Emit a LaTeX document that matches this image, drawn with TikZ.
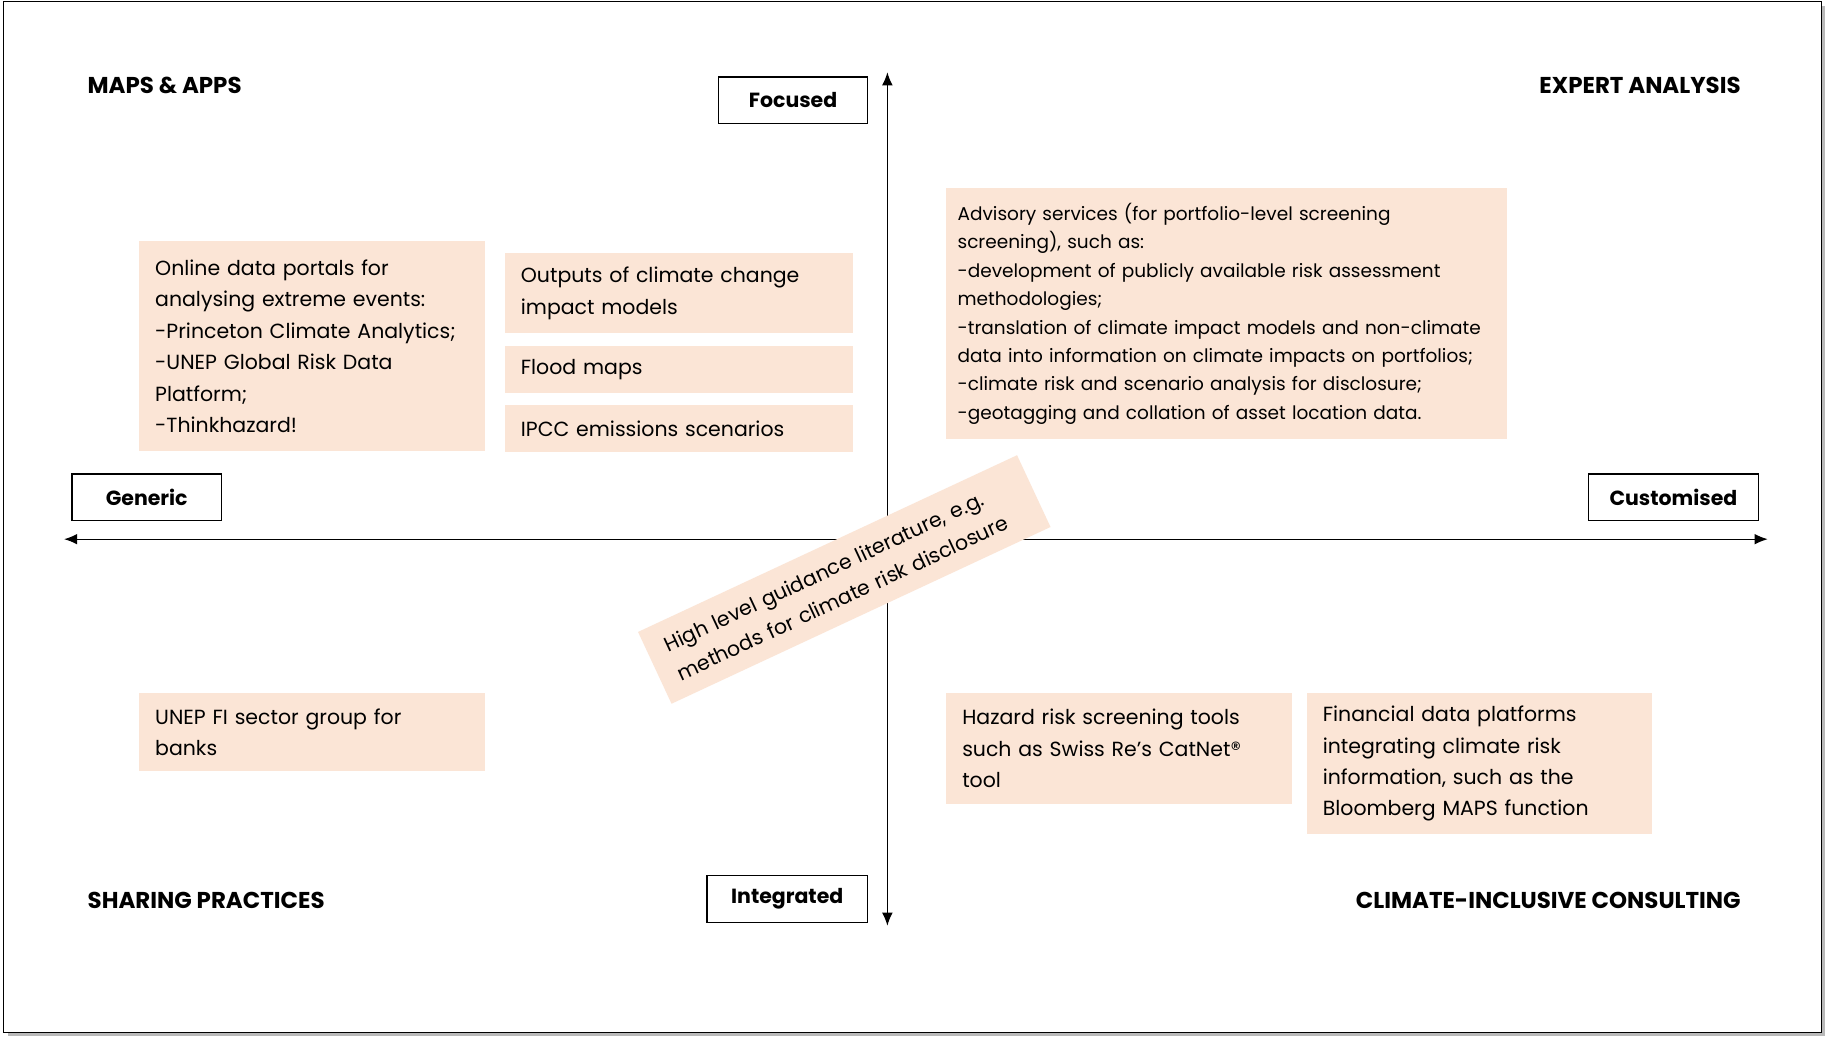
\documentclass[tikz,border=0pt]{standalone}
\usepackage{fontspec}
\setmainfont{Poppins}
\usepackage{xcolor}
\usepackage{tikz}
\usetikzlibrary{arrows.meta, positioning}
\definecolor{peach}{RGB}{251,229,214}
\tikzstyle{card} = [rectangle, fill=peach, align=left, inner xsep=0.35cm, inner ysep=0pt, font=\fontsize{12.5}{19.2}\selectfont]
\tikzstyle{axislabel} = [rectangle, draw=black, fill=white, line width=0.9pt, minimum height=1cm, text centered, font=\bfseries\fontsize{12.5}{14}\selectfont]
\tikzstyle{quadrant} = [inner sep=0pt, font=\bfseries\fontsize{14}{16}\selectfont]
\tikzstyle{axis} = [line width=0.8pt, {Latex[length=8pt,width=6.5pt]}-{Latex[length=8pt,width=6.5pt]}]

\begin{document}
\begin{tikzpicture}[x=0.025cm, y=-0.025cm]

\useasboundingbox (0,0) rectangle (1568,891);

% Frame
\fill [gray!55] (6.5,5) rectangle (1567.5,890);
\draw [fill=white, line width=0.6pt] (3.4,1.7) rectangle (1564.4,886.8);

% Axes
\coordinate (west) at (55,463);
\coordinate (east) at (1518,463);
\coordinate (north) at (762,62);
\coordinate (south) at (762,795);
\draw [axis] (west) -- (east);
\draw [axis] (south) -- (north);

% Axis labels
\node (focused) [axislabel, minimum width=3.2cm] at (681,86) {Focused};
\node (integrated) [axislabel, minimum width=3.45cm] at (676,772) {Integrated};
\node (generic) [axislabel, minimum width=3.2cm] at (126,427) {Generic};
\node (customised) [axislabel, minimum width=3.65cm] at (1437,427) {Customised};

% Quadrant titles
\node (mapsapps) [quadrant, anchor=west] at (75,73) {MAPS \& APPS};
\node (expert) [quadrant, anchor=east] at (1495,73) {EXPERT ANALYSIS};
\node (sharing) [quadrant, anchor=west] at (75,773) {SHARING PRACTICES};
\node (consulting) [quadrant, anchor=east] at (1495,773) {CLIMATE-INCLUSIVE CONSULTING};

% Top left
\node (portals) [card, anchor=north west, text width=6.725cm, minimum height=4.5cm] at (119,207) {Online data portals for\\analysing extreme events:\\-Princeton Climate Analytics;\\-UNEP Global Risk Data\\Platform;\\-Thinkhazard!};
\node (outputs) [card, anchor=north west, text width=6.775cm, minimum height=1.725cm] at (433,217) {Outputs of climate change\\impact models};
\node (flood) [card, below=0.25cm of outputs, text width=6.775cm, minimum height=1.025cm] {Flood maps};
\node (ipcc) [card, below=0.225cm of flood, text width=6.775cm, minimum height=1.025cm] {IPCC emissions scenarios};

% Top right
\node (advisory) [card, anchor=north west, inner xsep=0.25cm, text width=11.55cm, minimum height=5.4cm, font=\fontsize{11.3}{17.4}\selectfont] at (812,161) {Advisory services (for portfolio-level screening\\screening), such as:\\-development of publicly available risk assessment\\methodologies;\\-translation of climate impact models and non-climate\\data into information on climate impacts on portfolios;\\-climate risk and scenario analysis for disclosure;\\-geotagging and collation of asset location data.};

% Bottom
\node (unep) [card, anchor=north west, text width=6.725cm, minimum height=1.675cm] at (119,595) {UNEP FI sector group for\\banks};
\node (hazard) [card, anchor=north west, text width=6.725cm, minimum height=2.375cm] at (812,595) {Hazard risk screening tools\\such as Swiss Re’s CatNet®\\tool};
\node (financial) [card, right=0.3cm of hazard.north east, anchor=north west, text width=6.725cm, minimum height=3.025cm] {Financial data platforms\\integrating climate risk\\information, such as the\\Bloomberg MAPS function};

% Centre
\node (guidance) [card, rotate=25, inner xsep=0.4cm, text width=8.175cm, minimum height=1.7cm] at (725,497.6) {High level guidance literature, e.g.\\methods for climate risk disclosure};

\end{tikzpicture}
\end{document}
